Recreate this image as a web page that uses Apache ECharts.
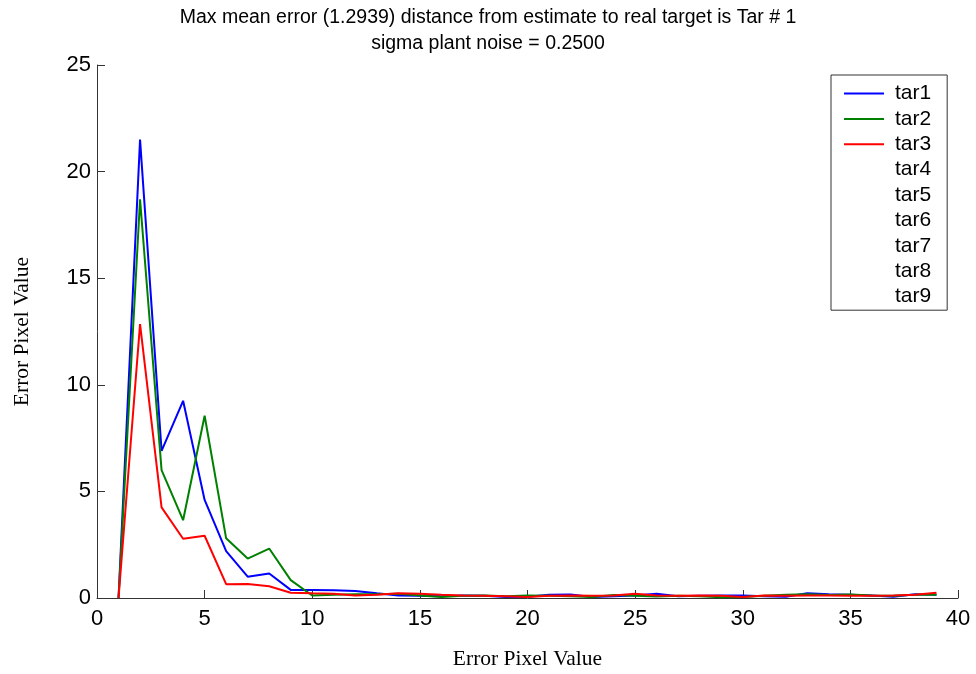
<!DOCTYPE html>
<html>
<head>
<meta charset="utf-8">
<script src="https://cdn.jsdelivr.net/npm/echarts@6/dist/echarts.min.js"></script>
<style>html,body{margin:0;padding:0;background:#fff}#c{width:976px;height:674px}</style>
</head>
<body>
<div id="c"></div>
<script>
var titleLines = ["Max mean error (1.2939) distance from estimate to real target is Tar # 1", "sigma plant noise = 0.2500"];
var xName = "Error Pixel Value";
var yName = "Error Pixel Value";
var xs = [1,2,3,4,5,6,7,8,9,10,11,12,13,14,15,16,17,18,19,20,21,22,23,24,25,26,27,28,29,30,31,32,33,34,35,36,37,38,39];
var tar1 = [0,21.5,6.9,9.25,4.6,2.2,1.0,1.15,0.38,0.38,0.36,0.33,0.22,0.12,0.10,0.08,0.12,0.10,0.05,0.06,0.15,0.16,0.05,0.08,0.12,0.20,0.08,0.10,0.12,0.12,0.08,0.06,0.22,0.18,0.15,0.12,0.06,0.18,0.15];
var tar2 = [0,18.7,6.0,3.65,8.55,2.8,1.85,2.32,0.84,0.12,0.15,0.18,0.18,0.20,0.12,0.05,0.10,0.12,0.08,0.12,0.10,0.08,0.05,0.14,0.10,0.07,0.10,0.08,0.04,0.05,0.10,0.15,0.18,0.14,0.16,0.12,0.10,0.15,0.15];
var tar3 = [0,12.85,4.25,2.78,2.92,0.65,0.66,0.55,0.25,0.22,0.20,0.12,0.15,0.22,0.20,0.15,0.12,0.10,0.08,0.05,0.10,0.12,0.10,0.12,0.20,0.12,0.10,0.12,0.10,0.05,0.12,0.10,0.12,0.12,0.10,0.10,0.12,0.15,0.25];
var seriesNames = ["tar1","tar2","tar3","tar4","tar5","tar6","tar7","tar8","tar9"];
var seriesColors = ["#0000ff","#008000","#ff0000","#ffffff","#ffffff","#ffffff","#ffffff","#ffffff","#ffffff"];
var seriesValues = [tar1, tar2, tar3, [], [], [], [], [], []];

function pairs(v){ return v.map(function(y,i){ return [xs[i], y]; }); }

var chart = echarts.init(document.getElementById('c'));
var series = seriesNames.map(function(n,i){
  return {
    name: n, type: 'line', data: pairs(seriesValues[i]), symbol: 'none',
    lineStyle: {width: 2, color: seriesColors[i]}, itemStyle: {color: seriesColors[i]},
    animation: false
  };
});
chart.setOption({
  animation: false,
  title: {
    text: titleLines.join('\n'), left: 'center', top: 0,
    textStyle: {fontFamily: 'Liberation Sans', fontSize: 19.5, fontWeight: 'normal', color: '#000', lineHeight: 26}
  },
  grid: {left: 97, right: 18, top: 65, bottom: 76, containLabel: false, outerBoundsMode: 'none'},
  legend: {
    orient: 'vertical', left: 831, top: 75, data: seriesNames,
    backgroundColor: '#fff', borderColor: '#333', borderWidth: 1,
    padding: [8, 16, 3, 12], itemWidth: 40, itemHeight: 20, itemGap: 4.4,
    itemStyle: {color: 'transparent', borderWidth: 0, opacity: 0},
    textStyle: {fontFamily: 'Liberation Sans', fontSize: 21, color: '#000', padding: [0,0,0,6], lineHeight: 20}
  },
  xAxis: {
    type: 'value', min: 0, max: 40, interval: 5,
    name: xName, nameLocation: 'middle', nameGap: 50,
    nameTextStyle: {fontFamily: 'Liberation Serif', fontSize: 21.5, color: '#000'},
    axisLine: {lineStyle: {color: '#333', width: 1}},
    axisTick: {inside: true, length: 8, lineStyle: {color: '#333'}},
    axisLabel: {fontFamily: 'Liberation Sans', fontSize: 22, color: '#000', margin: 10},
    splitLine: {show: false}
  },
  yAxis: {
    type: 'value', min: 0, max: 25, interval: 5,
    name: yName, nameLocation: 'middle', nameGap: 64, nameRotate: 90,
    nameTextStyle: {fontFamily: 'Liberation Serif', fontSize: 21.5, color: '#000'},
    axisLine: {show: true, lineStyle: {color: '#333', width: 1}},
    axisTick: {show: true, inside: true, length: 8, lineStyle: {color: '#333'}},
    axisLabel: {fontFamily: 'Liberation Sans', fontSize: 22, color: '#000', margin: 6},
    splitLine: {show: false}
  },
  series: series
});
</script>
</body>
</html>
